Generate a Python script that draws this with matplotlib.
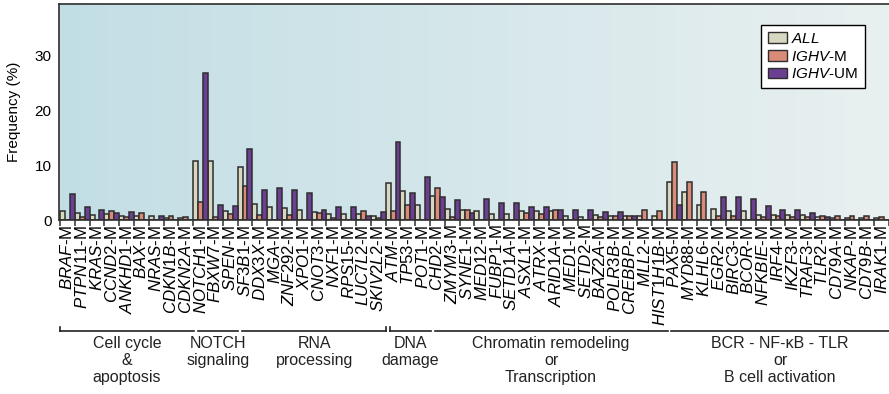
import numpy as np
import matplotlib
matplotlib.use('Agg')
import matplotlib.pyplot as plt
from matplotlib.colors import LinearSegmentedColormap
from matplotlib.patches import Patch
import matplotlib.transforms as mtransforms

plt.rcParams['font.family'] = ['Liberation Sans', 'DejaVu Sans']
plt.rcParams['mathtext.fontset'] = 'custom'
plt.rcParams['mathtext.rm'] = 'Liberation Sans'
plt.rcParams['mathtext.it'] = 'Liberation Sans:italic'

genes = ['BRAF', 'PTPN11', 'KRAS', 'CCND2', 'ANKHD1', 'BAX', 'NRAS', 'CDKN1B', 'CDKN2A',
         'NOTCH1', 'FBXW7', 'SPEN',
         'SF3B1', 'DDX3X', 'MGA', 'ZNF292', 'XPO1', 'CNOT3', 'NXF1', 'RPS15', 'LUC7L2', 'SKIV2L2',
         'ATM', 'TP53', 'POT1',
         'CHD2', 'ZMYM3', 'SYNE1', 'MED12', 'FUBP1', 'SETD1A', 'ASXL1', 'ATRX', 'ARID1A', 'MED1',
         'SETD2', 'BAZ2A', 'POLR3B', 'CREBBP', 'MLL2', 'HIST1H1B',
         'PAX5', 'MYD88', 'KLHL6', 'EGR2', 'BIRC3', 'BCOR', 'NFKBIE', 'IRF4', 'IKZF3', 'TRAF3',
         'TLR2', 'CD79A', 'NKAP', 'CD79B', 'IRAK1']

freq_all = [1.7, 1.2, 0.85, 1.1, 0.7, 0.7, 0.7, 0.35, 0.35,
            10.7, 10.7, 1.6,
            9.7, 2.85, 2.3, 2.2, 1.8, 1.4, 1.1, 1.15, 1.15, 0.65,
            6.8, 5.3, 2.7,
            4.4, 2.06, 1.8, 1.6, 1.1, 1.1, 1.6, 1.6, 1.6, 0.8,
            0.6, 1.0, 0.8, 0.8, 0.8, 0.8,
            6.85, 5.15, 2.7, 2.0, 1.7, 1.7, 1.0, 1.0, 0.85, 0.85,
            0.6, 0.4, 0.35, 0.35, 0.35]
freq_m = [0, 0.6, 0, 1.6, 0.5, 1.3, 0, 0.7, 0.6,
          3.2, 0.5, 1.1,
          6.2, 1.0, 0, 1.0, 0, 1.2, 0.45, 0, 1.6, 0.45,
          1.7, 2.7, 0,
          5.75, 0.5, 1.8, 0, 0, 0, 1.2, 1.05, 1.9, 0,
          0, 0.5, 0.8, 0.8, 1.9, 1.65,
          10.5, 7.0, 5.15, 0.8, 0.8, 0, 0.55, 0.8, 0.6, 0.6,
          0.8, 0.8, 0.8, 0.67, 0.6]
freq_um = [4.7, 2.4, 1.9, 1.3, 1.4, 0, 0.65, 0, 0,
           26.8, 2.7, 2.6,
           13.0, 5.4, 5.9, 5.4, 4.9, 1.9, 2.4, 2.4, 0.67, 1.4,
           14.2, 4.85, 7.75,
           4.1, 3.6, 1.35, 3.8, 3.15, 3.15, 2.4, 2.4, 1.75, 1.75,
           1.75, 1.4, 1.4, 0.67, 0, 0,
           2.7, 0, 0, 4.2, 4.2, 3.75, 2.6, 1.85, 1.85, 1.35,
           0.6, 0, 0, 0, 0]

group_names = ['Cell cycle\n&\napoptosis', 'NOTCH\nsignaling', 'RNA\nprocessing',
               'DNA\ndamage', 'Chromatin remodeling\nor\nTranscription',
               'BCR - NF-\u03baB - TLR\nor\nB cell activation']
group_starts = [0, 9, 12, 22, 25, 41]
group_ends = [9, 12, 22, 25, 41, 56]

c_all = '#d8d7c0'
c_m = '#d98b77'
c_um = '#6b3f92'
edge = '#2e2e2e'

fig = plt.figure(figsize=(8.89, 3.94), dpi=100)
ax = fig.add_axes([58.5 / 889, 174 / 394, 830.5 / 889, 216 / 394])

n = len(genes)
x = np.arange(n)
w = 1 / 3
ax.bar(x, freq_all, w, align='edge', color=c_all, edgecolor=edge, linewidth=1.1, zorder=2)
ax.bar(x + w, freq_m, w, align='edge', color=c_m, edgecolor=edge, linewidth=1.1, zorder=2)
ax.bar(x + 2 * w, freq_um, w, align='edge', color=c_um, edgecolor=edge, linewidth=1.1, zorder=2)

ax.set_xlim(-0.1, n)
ax.set_ylim(0, 39.3)

# background gradient
bg = LinearSegmentedColormap.from_list('bg', ['#c2dee5', '#e9f0f0'])
ax.imshow(np.linspace(0, 1, 256).reshape(1, -1), cmap=bg, aspect='auto',
          extent=[-0.1, n, 0, 39.3], zorder=0)

ax.set_yticks([0, 10, 20, 30])
ax.tick_params(axis='y', length=0, pad=5, labelsize=11)
ax.set_ylabel('Frequency (%)', fontsize=11)
ax.yaxis.set_label_coords(-0.045, 0.5)

ax.set_xticks(np.arange(n + 1))
ax.set_xticklabels([])
ax.tick_params(axis='x', which='major', length=4, width=1.1, color=edge, direction='out')
ax.set_xticks(x + 0.5, minor=True)
ax.set_xticklabels([r'$\mathit{' + g + '}$-M' for g in genes], minor=True,
                   rotation=90, fontsize=12.2)
ax.tick_params(axis='x', which='minor', length=0, pad=3.5)

for s in ['top', 'left', 'bottom']:
    ax.spines[s].set_color(edge)
    ax.spines[s].set_linewidth(1.2)
ax.spines['right'].set_visible(False)

handles = [Patch(facecolor=c_all, edgecolor=edge), Patch(facecolor=c_m, edgecolor=edge),
           Patch(facecolor=c_um, edgecolor=edge)]
leg = ax.legend(handles, [r'$\mathit{ALL}$', r'$\mathit{IGHV}$-M', r'$\mathit{IGHV}$-UM'],
                loc='upper right', bbox_to_anchor=(0.971, 0.903), borderaxespad=0,
                fontsize=11, frameon=True, fancybox=False, edgecolor='black', framealpha=1,
                handlelength=1.2, handleheight=0.7, handletextpad=0.3,
                borderpad=0.45, labelspacing=0.25)
leg.get_frame().set_linewidth(1.0)

# category brackets below the gene labels
trans = mtransforms.blended_transform_factory(ax.transData, ax.transAxes)
yb = -0.515
tick_h = 0.018
for i, name in enumerate(group_names):
    a = group_starts[i] + (0.3 if i > 0 else 0.0)
    b = group_ends[i] + (0.05 if i < len(group_names) - 1 else 0.0)
    ax.plot([a, b], [yb, yb], color='#222222', lw=1.2, transform=trans, clip_on=False)
    if i in (0, 3):
        ax.plot([a, a], [yb, yb + tick_h], color='#222222', lw=1.2, transform=trans, clip_on=False)
    if i == 2:
        ax.plot([b, b], [yb, yb + tick_h], color='#222222', lw=1.2, transform=trans, clip_on=False)
    ax.text((a + b) / 2, yb - 0.022, name, transform=trans, ha='center', va='top',
            fontsize=11.5, linespacing=1.15, color='#222222')

fig.savefig('out.png', dpi=100)
